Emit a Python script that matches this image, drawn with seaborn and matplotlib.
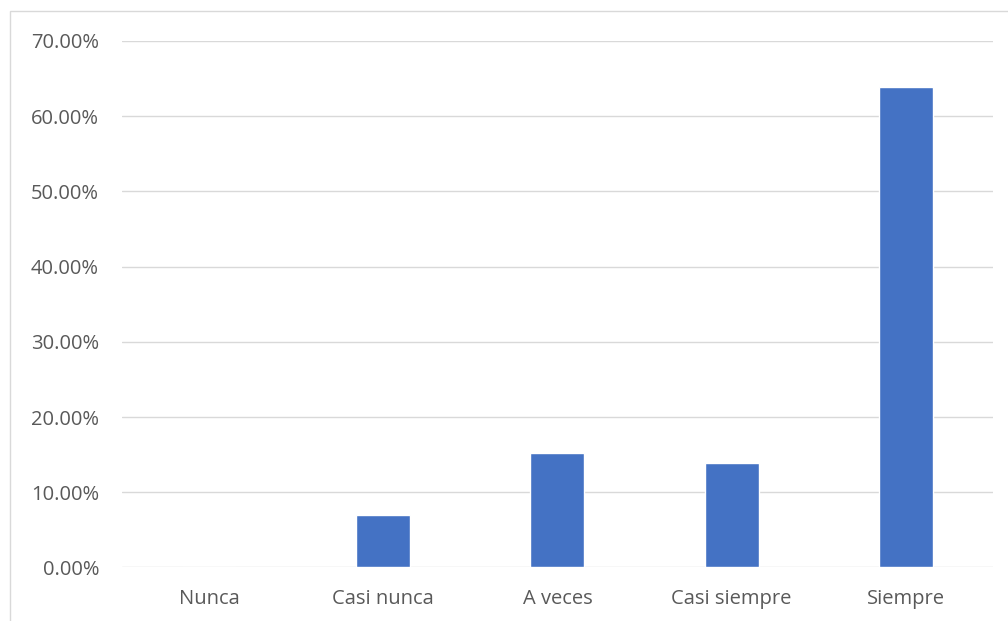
import matplotlib
matplotlib.use("Agg")
import matplotlib.pyplot as plt
import seaborn as sns
import pandas as pd
from matplotlib.patches import Rectangle
from matplotlib.ticker import FuncFormatter

categories = ["Nunca", "Casi nunca", "A veces", "Casi siempre", "Siempre"]
percentages = [0.0, 6.94, 15.28, 13.89, 63.89]
y_ticks = [0, 10, 20, 30, 40, 50, 60, 70]

df = pd.DataFrame({"categoria": categories, "porcentaje": percentages})

sns.set_theme(style="white")
plt.rcParams["font.family"] = ["Open Sans", "DejaVu Sans"]

fig = plt.figure(figsize=(10.08, 6.21), dpi=100)
ax = fig.add_axes([0.121, 0.0862, 0.864, 0.8478])

sns.barplot(data=df, x="categoria", y="porcentaje", color="#4472C4",
            width=0.31, saturation=1, ax=ax, zorder=3)

ax.set_ylim(0, 70)
ax.set_yticks(y_ticks)
ax.yaxis.set_major_formatter(FuncFormatter(lambda v, _: f"{v:.2f}%"))
ax.set_xlim(-0.5, len(categories) - 0.5)
ax.grid(axis="y", color="#d9d9d9", linewidth=1.0, zorder=0)
ax.grid(axis="x", visible=False)
for s in ax.spines.values():
    s.set_visible(False)
ax.set_xlabel("")
ax.set_ylabel("")
ax.tick_params(axis="both", length=0, labelsize=14.5, labelcolor="#595959")
ax.tick_params(axis="y", pad=16.5)
ax.tick_params(axis="x", pad=15.5)

# chart-area border
fig.patches.append(Rectangle((10 / 1008, -0.05), 1.1, 1 - 11 / 621 + 0.05,
                             transform=fig.transFigure, fill=False,
                             edgecolor="#d9d9d9", linewidth=1.0))

fig.savefig("out.png", dpi=100)
